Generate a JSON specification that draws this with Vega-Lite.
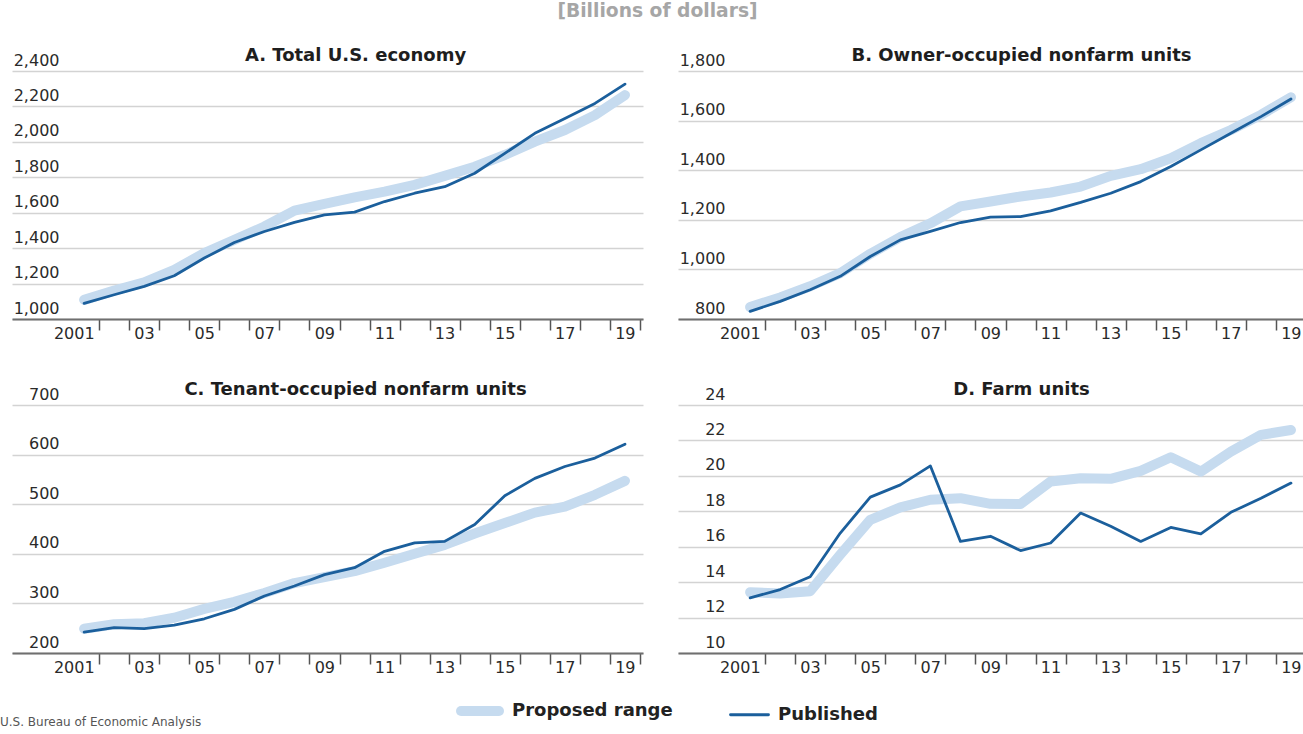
{
  "$schema": "https://vega.github.io/schema/vega-lite/v6.json",
  "padding": {"left": 0, "top": 2, "right": 0, "bottom": 0},
  "autosize": {"type": "pad"},
  "title": {"text": "U.S. Bureau of Economic Analysis", "orient": "bottom", "anchor": "start", "dx": -12, "offset": -5, "baseline": "alphabetic", "fontSize": 12, "fontWeight": "normal", "color": "#555555"},
  "datasets": {
    "rows": [
      {"panel": "A", "year": 2001, "series": "Proposed range", "value": 1108},
      {"panel": "A", "year": 2002, "series": "Proposed range", "value": 1161},
      {"panel": "A", "year": 2003, "series": "Proposed range", "value": 1207},
      {"panel": "A", "year": 2004, "series": "Proposed range", "value": 1278},
      {"panel": "A", "year": 2005, "series": "Proposed range", "value": 1372},
      {"panel": "A", "year": 2006, "series": "Proposed range", "value": 1447},
      {"panel": "A", "year": 2007, "series": "Proposed range", "value": 1522},
      {"panel": "A", "year": 2008, "series": "Proposed range", "value": 1612},
      {"panel": "A", "year": 2009, "series": "Proposed range", "value": 1650},
      {"panel": "A", "year": 2010, "series": "Proposed range", "value": 1687},
      {"panel": "A", "year": 2011, "series": "Proposed range", "value": 1719},
      {"panel": "A", "year": 2012, "series": "Proposed range", "value": 1757},
      {"panel": "A", "year": 2013, "series": "Proposed range", "value": 1808},
      {"panel": "A", "year": 2014, "series": "Proposed range", "value": 1860},
      {"panel": "A", "year": 2015, "series": "Proposed range", "value": 1926},
      {"panel": "A", "year": 2016, "series": "Proposed range", "value": 2001},
      {"panel": "A", "year": 2017, "series": "Proposed range", "value": 2067},
      {"panel": "A", "year": 2018, "series": "Proposed range", "value": 2151},
      {"panel": "A", "year": 2019, "series": "Proposed range", "value": 2264},
      {"panel": "A", "year": 2001, "series": "Published", "value": 1088},
      {"panel": "A", "year": 2002, "series": "Published", "value": 1137},
      {"panel": "A", "year": 2003, "series": "Published", "value": 1184},
      {"panel": "A", "year": 2004, "series": "Published", "value": 1244},
      {"panel": "A", "year": 2005, "series": "Published", "value": 1344},
      {"panel": "A", "year": 2006, "series": "Published", "value": 1432},
      {"panel": "A", "year": 2007, "series": "Published", "value": 1494},
      {"panel": "A", "year": 2008, "series": "Published", "value": 1545},
      {"panel": "A", "year": 2009, "series": "Published", "value": 1588},
      {"panel": "A", "year": 2010, "series": "Published", "value": 1603},
      {"panel": "A", "year": 2011, "series": "Published", "value": 1663},
      {"panel": "A", "year": 2012, "series": "Published", "value": 1710},
      {"panel": "A", "year": 2013, "series": "Published", "value": 1747},
      {"panel": "A", "year": 2014, "series": "Published", "value": 1823},
      {"panel": "A", "year": 2015, "series": "Published", "value": 1935},
      {"panel": "A", "year": 2016, "series": "Published", "value": 2048},
      {"panel": "A", "year": 2017, "series": "Published", "value": 2132},
      {"panel": "A", "year": 2018, "series": "Published", "value": 2217},
      {"panel": "A", "year": 2019, "series": "Published", "value": 2326},
      {"panel": "B", "year": 2001, "series": "Proposed range", "value": 848},
      {"panel": "B", "year": 2002, "series": "Proposed range", "value": 887},
      {"panel": "B", "year": 2003, "series": "Proposed range", "value": 932},
      {"panel": "B", "year": 2004, "series": "Proposed range", "value": 985},
      {"panel": "B", "year": 2005, "series": "Proposed range", "value": 1063},
      {"panel": "B", "year": 2006, "series": "Proposed range", "value": 1130},
      {"panel": "B", "year": 2007, "series": "Proposed range", "value": 1186},
      {"panel": "B", "year": 2008, "series": "Proposed range", "value": 1254},
      {"panel": "B", "year": 2009, "series": "Proposed range", "value": 1274},
      {"panel": "B", "year": 2010, "series": "Proposed range", "value": 1294},
      {"panel": "B", "year": 2011, "series": "Proposed range", "value": 1310},
      {"panel": "B", "year": 2012, "series": "Proposed range", "value": 1334},
      {"panel": "B", "year": 2013, "series": "Proposed range", "value": 1377},
      {"panel": "B", "year": 2014, "series": "Proposed range", "value": 1404},
      {"panel": "B", "year": 2015, "series": "Proposed range", "value": 1448},
      {"panel": "B", "year": 2016, "series": "Proposed range", "value": 1509},
      {"panel": "B", "year": 2017, "series": "Proposed range", "value": 1562},
      {"panel": "B", "year": 2018, "series": "Proposed range", "value": 1623},
      {"panel": "B", "year": 2019, "series": "Proposed range", "value": 1694},
      {"panel": "B", "year": 2001, "series": "Published", "value": 831},
      {"panel": "B", "year": 2002, "series": "Published", "value": 871},
      {"panel": "B", "year": 2003, "series": "Published", "value": 918},
      {"panel": "B", "year": 2004, "series": "Published", "value": 972},
      {"panel": "B", "year": 2005, "series": "Published", "value": 1052},
      {"panel": "B", "year": 2006, "series": "Published", "value": 1119},
      {"panel": "B", "year": 2007, "series": "Published", "value": 1153},
      {"panel": "B", "year": 2008, "series": "Published", "value": 1189},
      {"panel": "B", "year": 2009, "series": "Published", "value": 1211},
      {"panel": "B", "year": 2010, "series": "Published", "value": 1213},
      {"panel": "B", "year": 2011, "series": "Published", "value": 1236},
      {"panel": "B", "year": 2012, "series": "Published", "value": 1270},
      {"panel": "B", "year": 2013, "series": "Published", "value": 1307},
      {"panel": "B", "year": 2014, "series": "Published", "value": 1354},
      {"panel": "B", "year": 2015, "series": "Published", "value": 1415},
      {"panel": "B", "year": 2016, "series": "Published", "value": 1482},
      {"panel": "B", "year": 2017, "series": "Published", "value": 1549},
      {"panel": "B", "year": 2018, "series": "Published", "value": 1616},
      {"panel": "B", "year": 2019, "series": "Published", "value": 1687},
      {"panel": "C", "year": 2001, "series": "Proposed range", "value": 249},
      {"panel": "C", "year": 2002, "series": "Proposed range", "value": 258},
      {"panel": "C", "year": 2003, "series": "Proposed range", "value": 260},
      {"panel": "C", "year": 2004, "series": "Proposed range", "value": 271},
      {"panel": "C", "year": 2005, "series": "Proposed range", "value": 289},
      {"panel": "C", "year": 2006, "series": "Proposed range", "value": 303},
      {"panel": "C", "year": 2007, "series": "Proposed range", "value": 321},
      {"panel": "C", "year": 2008, "series": "Proposed range", "value": 341},
      {"panel": "C", "year": 2009, "series": "Proposed range", "value": 353},
      {"panel": "C", "year": 2010, "series": "Proposed range", "value": 365},
      {"panel": "C", "year": 2011, "series": "Proposed range", "value": 382},
      {"panel": "C", "year": 2012, "series": "Proposed range", "value": 400},
      {"panel": "C", "year": 2013, "series": "Proposed range", "value": 418},
      {"panel": "C", "year": 2014, "series": "Proposed range", "value": 441},
      {"panel": "C", "year": 2015, "series": "Proposed range", "value": 462},
      {"panel": "C", "year": 2016, "series": "Proposed range", "value": 483},
      {"panel": "C", "year": 2017, "series": "Proposed range", "value": 495},
      {"panel": "C", "year": 2018, "series": "Proposed range", "value": 519},
      {"panel": "C", "year": 2019, "series": "Proposed range", "value": 547},
      {"panel": "C", "year": 2001, "series": "Published", "value": 242},
      {"panel": "C", "year": 2002, "series": "Published", "value": 251},
      {"panel": "C", "year": 2003, "series": "Published", "value": 249},
      {"panel": "C", "year": 2004, "series": "Published", "value": 256},
      {"panel": "C", "year": 2005, "series": "Published", "value": 269},
      {"panel": "C", "year": 2006, "series": "Published", "value": 288},
      {"panel": "C", "year": 2007, "series": "Published", "value": 315},
      {"panel": "C", "year": 2008, "series": "Published", "value": 335},
      {"panel": "C", "year": 2009, "series": "Published", "value": 358},
      {"panel": "C", "year": 2010, "series": "Published", "value": 372},
      {"panel": "C", "year": 2011, "series": "Published", "value": 405},
      {"panel": "C", "year": 2012, "series": "Published", "value": 422},
      {"panel": "C", "year": 2013, "series": "Published", "value": 425},
      {"panel": "C", "year": 2014, "series": "Published", "value": 459},
      {"panel": "C", "year": 2015, "series": "Published", "value": 517},
      {"panel": "C", "year": 2016, "series": "Published", "value": 552},
      {"panel": "C", "year": 2017, "series": "Published", "value": 576},
      {"panel": "C", "year": 2018, "series": "Published", "value": 593},
      {"panel": "C", "year": 2019, "series": "Published", "value": 621},
      {"panel": "D", "year": 2001, "series": "Proposed range", "value": 13.43},
      {"panel": "D", "year": 2002, "series": "Proposed range", "value": 13.36},
      {"panel": "D", "year": 2003, "series": "Proposed range", "value": 13.49},
      {"panel": "D", "year": 2004, "series": "Proposed range", "value": 15.55},
      {"panel": "D", "year": 2005, "series": "Proposed range", "value": 17.52},
      {"panel": "D", "year": 2006, "series": "Proposed range", "value": 18.22},
      {"panel": "D", "year": 2007, "series": "Proposed range", "value": 18.65},
      {"panel": "D", "year": 2008, "series": "Proposed range", "value": 18.74},
      {"panel": "D", "year": 2009, "series": "Proposed range", "value": 18.42},
      {"panel": "D", "year": 2010, "series": "Proposed range", "value": 18.41},
      {"panel": "D", "year": 2011, "series": "Proposed range", "value": 19.68},
      {"panel": "D", "year": 2012, "series": "Proposed range", "value": 19.87},
      {"panel": "D", "year": 2013, "series": "Proposed range", "value": 19.83},
      {"panel": "D", "year": 2014, "series": "Proposed range", "value": 20.28},
      {"panel": "D", "year": 2015, "series": "Proposed range", "value": 21.05},
      {"panel": "D", "year": 2016, "series": "Proposed range", "value": 20.24},
      {"panel": "D", "year": 2017, "series": "Proposed range", "value": 21.37},
      {"panel": "D", "year": 2018, "series": "Proposed range", "value": 22.31},
      {"panel": "D", "year": 2019, "series": "Proposed range", "value": 22.59},
      {"panel": "D", "year": 2001, "series": "Published", "value": 13.11},
      {"panel": "D", "year": 2002, "series": "Published", "value": 13.58},
      {"panel": "D", "year": 2003, "series": "Published", "value": 14.3},
      {"panel": "D", "year": 2004, "series": "Published", "value": 16.77},
      {"panel": "D", "year": 2005, "series": "Published", "value": 18.8},
      {"panel": "D", "year": 2006, "series": "Published", "value": 19.49},
      {"panel": "D", "year": 2007, "series": "Published", "value": 20.56},
      {"panel": "D", "year": 2008, "series": "Published", "value": 16.3},
      {"panel": "D", "year": 2009, "series": "Published", "value": 16.59},
      {"panel": "D", "year": 2010, "series": "Published", "value": 15.78},
      {"panel": "D", "year": 2011, "series": "Published", "value": 16.21},
      {"panel": "D", "year": 2012, "series": "Published", "value": 17.9},
      {"panel": "D", "year": 2013, "series": "Published", "value": 17.15},
      {"panel": "D", "year": 2014, "series": "Published", "value": 16.3},
      {"panel": "D", "year": 2015, "series": "Published", "value": 17.09},
      {"panel": "D", "year": 2016, "series": "Published", "value": 16.72},
      {"panel": "D", "year": 2017, "series": "Published", "value": 17.94},
      {"panel": "D", "year": 2018, "series": "Published", "value": 18.74},
      {"panel": "D", "year": 2019, "series": "Published", "value": 19.59}
    ]
  },
  "data": {"name": "rows"},
  "bounds": "flush",
  "vconcat": [
    {
      "title": {"text": "[Billions of dollars]", "anchor": "middle", "dx": -3, "offset": 10.5, "baseline": "alphabetic", "fontSize": 18.7, "fontWeight": "bold", "color": "#a6a6a6"},
      "columns": 2,
      "bounds": "flush",
      "spacing": {"row": 86, "column": 35},
      "resolve": {"scale": {"x": "independent", "y": "independent"}},
      "concat": [
        {
          "title": {"text": "A. Total U.S. economy"},
          "width": 631, "height": 248,
          "transform": [{"filter": "datum.panel === 'A'"}],
          "mark": {"type": "line", "strokeCap": "round", "strokeJoin": "round"},
          "encoding": {
            "x": {"field": "year", "type": "quantitative", "scale": {"domain": [1998.6, 2019.6], "nice": false, "zero": false},
              "axis": {"values": [2001.5, 2002.5, 2003.5, 2004.5, 2005.5, 2006.5, 2007.5, 2008.5, 2009.5, 2010.5, 2011.5, 2012.5, 2013.5, 2014.5, 2015.5, 2016.5, 2017.5, 2018.5, 2019.5],
                "labelExpr": "datum.value == 2001.5 ? '2001' : ((datum.value - 0.5) % 2 == 1 ? slice(toString(datum.value - 0.5), 2) : '')"}},
            "y": {"field": "value", "type": "quantitative", "scale": {"domain": [1000, 2400], "nice": false, "zero": false},
              "axis": {"values": [1000, 1200, 1400, 1600, 1800, 2000, 2200, 2400], "format": ",.0f"}},
            "color": {"field": "series", "type": "nominal", "scale": {"domain": ["Proposed range", "Published"], "range": ["#c6dbef", "#1b5f9c"]},
              "legend": {"encode": {"symbols": {"update": {"strokeCap": {"value": "round"}}}}}},
            "strokeWidth": {"field": "series", "type": "nominal", "scale": {"domain": ["Proposed range", "Published"], "range": [10, 2.8]}}
          }
        },
        {
          "title": {"text": "B. Owner-occupied nonfarm units"},
          "width": 631, "height": 248,
          "transform": [{"filter": "datum.panel === 'B'"}],
          "mark": {"type": "line", "strokeCap": "round", "strokeJoin": "round"},
          "encoding": {
            "x": {"field": "year", "type": "quantitative", "scale": {"domain": [1998.6, 2019.6], "nice": false, "zero": false},
              "axis": {"values": [2001.5, 2002.5, 2003.5, 2004.5, 2005.5, 2006.5, 2007.5, 2008.5, 2009.5, 2010.5, 2011.5, 2012.5, 2013.5, 2014.5, 2015.5, 2016.5, 2017.5, 2018.5, 2019.5],
                "labelExpr": "datum.value == 2001.5 ? '2001' : ((datum.value - 0.5) % 2 == 1 ? slice(toString(datum.value - 0.5), 2) : '')"}},
            "y": {"field": "value", "type": "quantitative", "scale": {"domain": [800, 1800], "nice": false, "zero": false},
              "axis": {"values": [800, 1000, 1200, 1400, 1600, 1800], "format": ",.0f"}},
            "color": {"field": "series", "type": "nominal", "scale": {"domain": ["Proposed range", "Published"], "range": ["#c6dbef", "#1b5f9c"]}},
            "strokeWidth": {"field": "series", "type": "nominal", "scale": {"domain": ["Proposed range", "Published"], "range": [10, 2.8]}}
          }
        },
        {
          "title": {"text": "C. Tenant-occupied nonfarm units"},
          "width": 631, "height": 248,
          "transform": [{"filter": "datum.panel === 'C'"}],
          "mark": {"type": "line", "strokeCap": "round", "strokeJoin": "round"},
          "encoding": {
            "x": {"field": "year", "type": "quantitative", "scale": {"domain": [1998.6, 2019.6], "nice": false, "zero": false},
              "axis": {"values": [2001.5, 2002.5, 2003.5, 2004.5, 2005.5, 2006.5, 2007.5, 2008.5, 2009.5, 2010.5, 2011.5, 2012.5, 2013.5, 2014.5, 2015.5, 2016.5, 2017.5, 2018.5, 2019.5],
                "labelExpr": "datum.value == 2001.5 ? '2001' : ((datum.value - 0.5) % 2 == 1 ? slice(toString(datum.value - 0.5), 2) : '')"}},
            "y": {"field": "value", "type": "quantitative", "scale": {"domain": [200, 700], "nice": false, "zero": false},
              "axis": {"values": [200, 300, 400, 500, 600, 700], "format": ",.0f"}},
            "color": {"field": "series", "type": "nominal", "scale": {"domain": ["Proposed range", "Published"], "range": ["#c6dbef", "#1b5f9c"]}},
            "strokeWidth": {"field": "series", "type": "nominal", "scale": {"domain": ["Proposed range", "Published"], "range": [10, 2.8]}}
          }
        },
        {
          "title": {"text": "D. Farm units"},
          "width": 631, "height": 248,
          "transform": [{"filter": "datum.panel === 'D'"}],
          "mark": {"type": "line", "strokeCap": "round", "strokeJoin": "round"},
          "encoding": {
            "x": {"field": "year", "type": "quantitative", "scale": {"domain": [1998.6, 2019.6], "nice": false, "zero": false},
              "axis": {"values": [2001.5, 2002.5, 2003.5, 2004.5, 2005.5, 2006.5, 2007.5, 2008.5, 2009.5, 2010.5, 2011.5, 2012.5, 2013.5, 2014.5, 2015.5, 2016.5, 2017.5, 2018.5, 2019.5],
                "labelExpr": "datum.value == 2001.5 ? '2001' : ((datum.value - 0.5) % 2 == 1 ? slice(toString(datum.value - 0.5), 2) : '')"}},
            "y": {"field": "value", "type": "quantitative", "scale": {"domain": [10, 24], "nice": false, "zero": false},
              "axis": {"values": [10, 12, 14, 16, 18, 20, 22, 24], "format": ",.0f"}},
            "color": {"field": "series", "type": "nominal", "scale": {"domain": ["Proposed range", "Published"], "range": ["#c6dbef", "#1b5f9c"]}},
            "strokeWidth": {"field": "series", "type": "nominal", "scale": {"domain": ["Proposed range", "Published"], "range": [10, 2.8]}}
          }
        }
      ]
    }
  ],
  "config": {
    "font": "DejaVu Sans",
    "view": {"stroke": null},
    "title": {"fontSize": 18, "fontWeight": "bold", "color": "#1e1e1e", "baseline": "alphabetic", "offset": -12.5, "dx": 28, "anchor": "middle"},
    "axisX": {"title": null, "grid": false, "domainColor": "#6f6f6f", "domainWidth": 2, "tickColor": "#555555", "tickWidth": 1.5, "tickSize": 11, "labelAlign": "right", "labelBaseline": "top", "labelPadding": -5, "labelOffset": -5, "labelFontSize": 16, "labelColor": "#2a2a2a", "labelFlush": false, "labelOverlap": false},
    "axisY": {"title": null, "domain": false, "ticks": false, "grid": true, "gridColor": "#d3d3d3", "gridWidth": 1.5, "labelAlign": "right", "labelBaseline": "alphabetic", "labelPadding": -47, "labelOffset": -6, "labelFontSize": 16, "labelColor": "#2a2a2a", "labelFlush": false, "labelOverlap": false},
    "legend": {"orient": "none", "legendX": 444, "legendY": 616, "direction": "horizontal", "title": null, "symbolType": "stroke", "symbolSize": 1444, "labelFontSize": 18, "labelFontWeight": "bold", "labelColor": "#222222", "labelOffset": 8, "labelLimit": 400, "columnPadding": 51, "padding": 0}
  }
}
